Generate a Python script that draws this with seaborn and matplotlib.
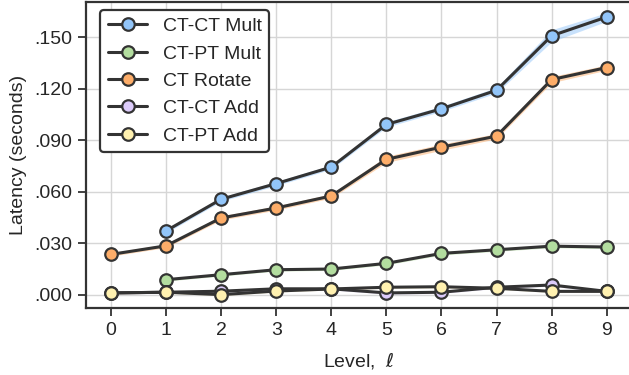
import numpy as np
import pandas as pd
import matplotlib
matplotlib.use("Agg")
import matplotlib.pyplot as plt
from matplotlib.lines import Line2D
from matplotlib.ticker import FuncFormatter
import seaborn as sns

# Operation latencies (seconds) per multiplicative level
levels = list(range(10))
ct_ct_mult = [None, 0.0373, 0.0557, 0.0648, 0.0744, 0.0992, 0.1083, 0.1191, 0.1508, 0.1617]
ct_pt_mult = [None, 0.0089, 0.0118, 0.0147, 0.0151, 0.0184, 0.0242, 0.0263, 0.0284, 0.0279]
ct_rotate = [0.0236, 0.0286, 0.0448, 0.0506, 0.0576, 0.0789, 0.0860, 0.0924, 0.1253, 0.1323]
ct_ct_add = [0.0012, 0.0016, 0.0022, 0.0036, 0.0036, 0.0012, 0.0016, 0.0045, 0.0058, 0.0021]
ct_pt_add = [0.0012, 0.0016, 0.0002, 0.0023, 0.0035, 0.0045, 0.0048, 0.0039, 0.0021, 0.0021]

# Half-width of the run-to-run spread around each mean
ct_ct_mult_spread = [None, 0.0012, 0.0012, 0.0012, 0.0012, 0.0015, 0.0015, 0.0016, 0.0035, 0.0025]
ct_pt_mult_spread = [None, 0.0008, 0.0008, 0.0008, 0.0008, 0.0009, 0.0009, 0.0009, 0.0009, 0.0009]
ct_rotate_spread = [0.0010, 0.0010, 0.0012, 0.0012, 0.0012, 0.0018, 0.0018, 0.0015, 0.0018, 0.0015]
ct_ct_add_spread = [0.0007] * 10
ct_pt_add_spread = [0.0006] * 10

operations = ["CT-CT Mult", "CT-PT Mult", "CT Rotate", "CT-CT Add", "CT-PT Add"]
colors = ["#92c5f9", "#b3dd9f", "#fdad69", "#dccbfa", "#fff1b0"]

series = [
    (ct_ct_mult, ct_ct_mult_spread),
    (ct_pt_mult, ct_pt_mult_spread),
    (ct_rotate, ct_rotate_spread),
    (ct_ct_add, ct_ct_add_spread),
    (ct_pt_add, ct_pt_add_spread),
]

# Long-form table: each level has a low, mean and high observation
rows = []
for op, (vals, spread) in zip(operations, series):
    for lvl, v, s in zip(levels, vals, spread):
        if v is None:
            continue
        for obs in (v - s, v, v + s):
            rows.append({"Level": lvl, "Latency": obs, "Operation": op})
df = pd.DataFrame(rows)

sns.set_theme(style="whitegrid")
plt.rcParams["font.family"] = ["Liberation Sans", "DejaVu Sans"]
plt.rcParams["mathtext.fontset"] = "dejavusans"

edge = "#333333"
text_c = "#262626"
fs = 14
fig = plt.figure(figsize=(6.29, 3.75), dpi=100)
ax = fig.add_axes([0.137, 0.179, 0.867, 0.816])

sns.lineplot(
    data=df, x="Level", y="Latency", hue="Operation",
    hue_order=operations, palette=colors,
    estimator="mean", errorbar=("pi", 100),
    err_kws={"alpha": 0.5, "linewidth": 0},
    marker="o", markersize=9, markeredgecolor=edge, markeredgewidth=1.6,
    linewidth=2.2, legend=False, ax=ax,
)

for line, c in zip(ax.lines, colors):
    line.set_markerfacecolor(c)
    line.set_color(edge)
    line.set_markeredgecolor(edge)

ax.set_xlim(-0.45, 9.45)
ax.set_ylim(-0.0075, 0.1705)
ax.set_xticks(levels)
ax.set_yticks([0.0, 0.03, 0.06, 0.09, 0.12, 0.15])
ax.yaxis.set_major_formatter(FuncFormatter(lambda v, _: f"{v:.3f}".lstrip("0")))

ax.grid(True, color="#d6d6d6", linewidth=1.0)
for sp in ax.spines.values():
    sp.set_color(edge)
    sp.set_linewidth(1.6)
ax.tick_params(axis="both", which="major", labelsize=fs, length=6, width=1.3,
               color=edge, labelcolor=text_c, bottom=True, left=True, pad=4)

ax.set_xlabel(r"Level,  $\ell$", fontsize=fs, color=text_c, labelpad=8)
ax.set_ylabel("Latency (seconds)", fontsize=fs, color=text_c, labelpad=5)

handles = [
    Line2D([], [], color=edge, linewidth=2.2, marker="o", markersize=9,
           markerfacecolor=c, markeredgecolor=edge, markeredgewidth=1.6)
    for c in colors
]
leg = ax.legend(handles, operations, loc="upper left", fontsize=fs,
                bbox_to_anchor=(0.026, 0.974), frameon=True, fancybox=True,
                framealpha=1.0, borderaxespad=0.0)
leg.get_frame().set_edgecolor(edge)
leg.get_frame().set_linewidth(1.6)
for t in leg.get_texts():
    t.set_color(text_c)

fig.savefig("out.png", dpi=100)
